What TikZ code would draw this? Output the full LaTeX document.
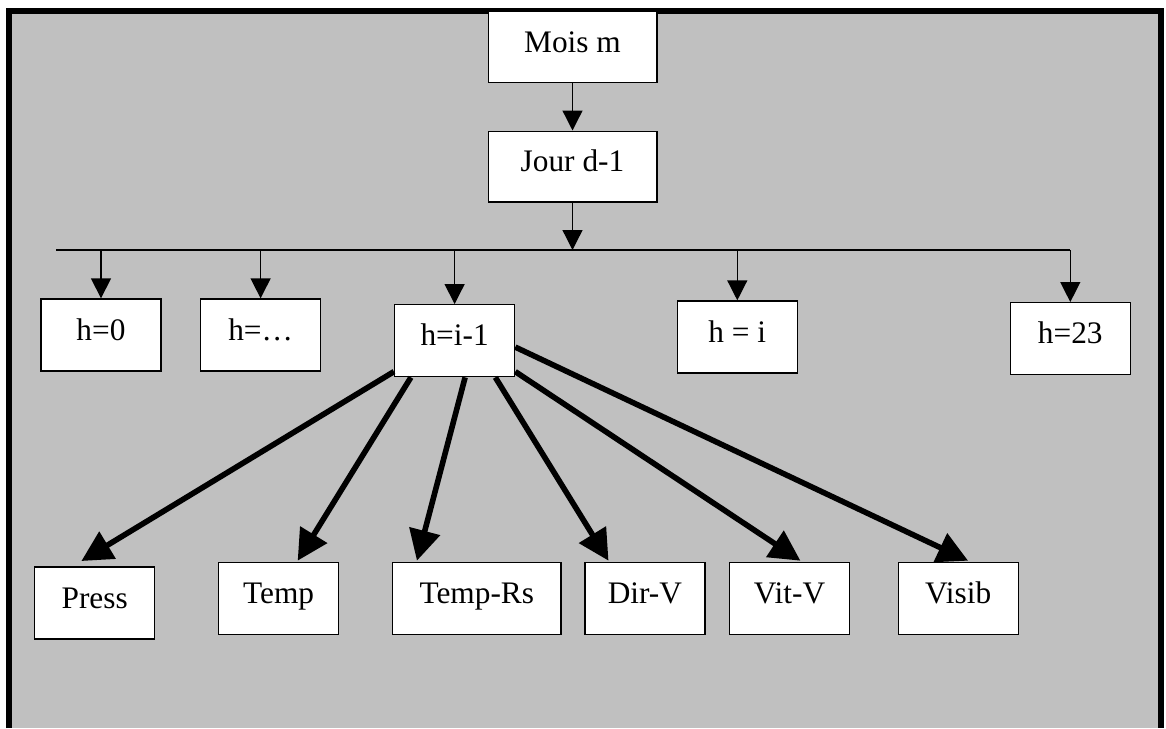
\documentclass[tikz,border=0pt]{standalone}
\usepackage{fontspec}
\setmainfont{Liberation Serif}
\usetikzlibrary{arrows.meta,calc}
\definecolor{panelgray}{RGB}{192,192,192}

\begin{document}
\begin{tikzpicture}[x=0.75pt,y=-0.75pt,
  box/.style={rectangle,draw,line width=1pt,fill=white,minimum width=90pt,minimum height=54pt,
    inner sep=2pt,text height=17pt,text depth=9.5pt,font=\fontsize{23.5}{28}\selectfont},
  widebox/.style={box,minimum width=126.5pt,minimum height=53pt},
  thinarrow/.style={-{Triangle[width=15pt,length=15pt]},line width=1pt},
  bigarrow/.style={-{Triangle[width=23pt,length=23pt]},line width=4.2pt}]

  \useasboundingbox (0,0) rectangle (1166,728);

  % Gray panel and frame
  \fill[panelgray] (9,11) rectangle (1161,728);
  \draw[line width=4.5pt] (9,728) -- (9,11) -- (1161,11) -- (1161,728);

  % Month and day
  \node[widebox] (mois) at (572.5,47) {Mois m};
  \node[widebox] (jour) at (572.5,166.5) {Jour d-1};

  % Hour boxes
  \node[box] (h0) at (101,335) {h=0};
  \node[box] (hdots) at (260.6,335) {h=\dots};
  \node[box] (hi1) at (454.6,340.7) {h=i-1};
  \node[box] (hi) at (737.3,337) {h = i};
  \node[box] (h23) at (1070.3,338.7) {h=23};

  % Measured parameters
  \node[box] (press) at (94.7,603) {Press};
  \node[box] (temp) at (278.6,598.7) {Temp};
  \node[box,minimum width=126.3pt] (temprs) at (476.8,598.7) {Temp-Rs};
  \node[box] (dirv) at (644.9,598.7) {Dir-V};
  \node[box] (vitv) at (789.5,598.7) {Vit-V};
  \node[box] (visib) at (958.2,598.7) {Visib};

  % Tree of hours
  \coordinate (busL) at (56,250);
  \coordinate (busR) at (1070.3,250);
  \draw[thinarrow] (mois) -- (jour);
  \draw[thinarrow] (jour) -- (jour.south |- busL);
  \draw[line width=1pt] (busL) -- (busR);
  \foreach \n in {h0,hdots,hi1,hi,h23}
    \draw[thinarrow] (\n.north |- busL) -- (\n.north);

  % Parameters of hour i-1
  \foreach \a/\t/\dx/\dy in {207/press/-10pt/4pt, 220/temp/14.3pt/1pt, 286/temprs/-44.9pt/1pt,
      318/dirv/-27.3pt/1pt, 333/vitv/8.2pt/1pt, 354/visib/7.4pt/1pt}
    \draw[bigarrow] (hi1.\a) -- ([xshift=\dx,yshift=\dy]\t.north);

\end{tikzpicture}
\end{document}
